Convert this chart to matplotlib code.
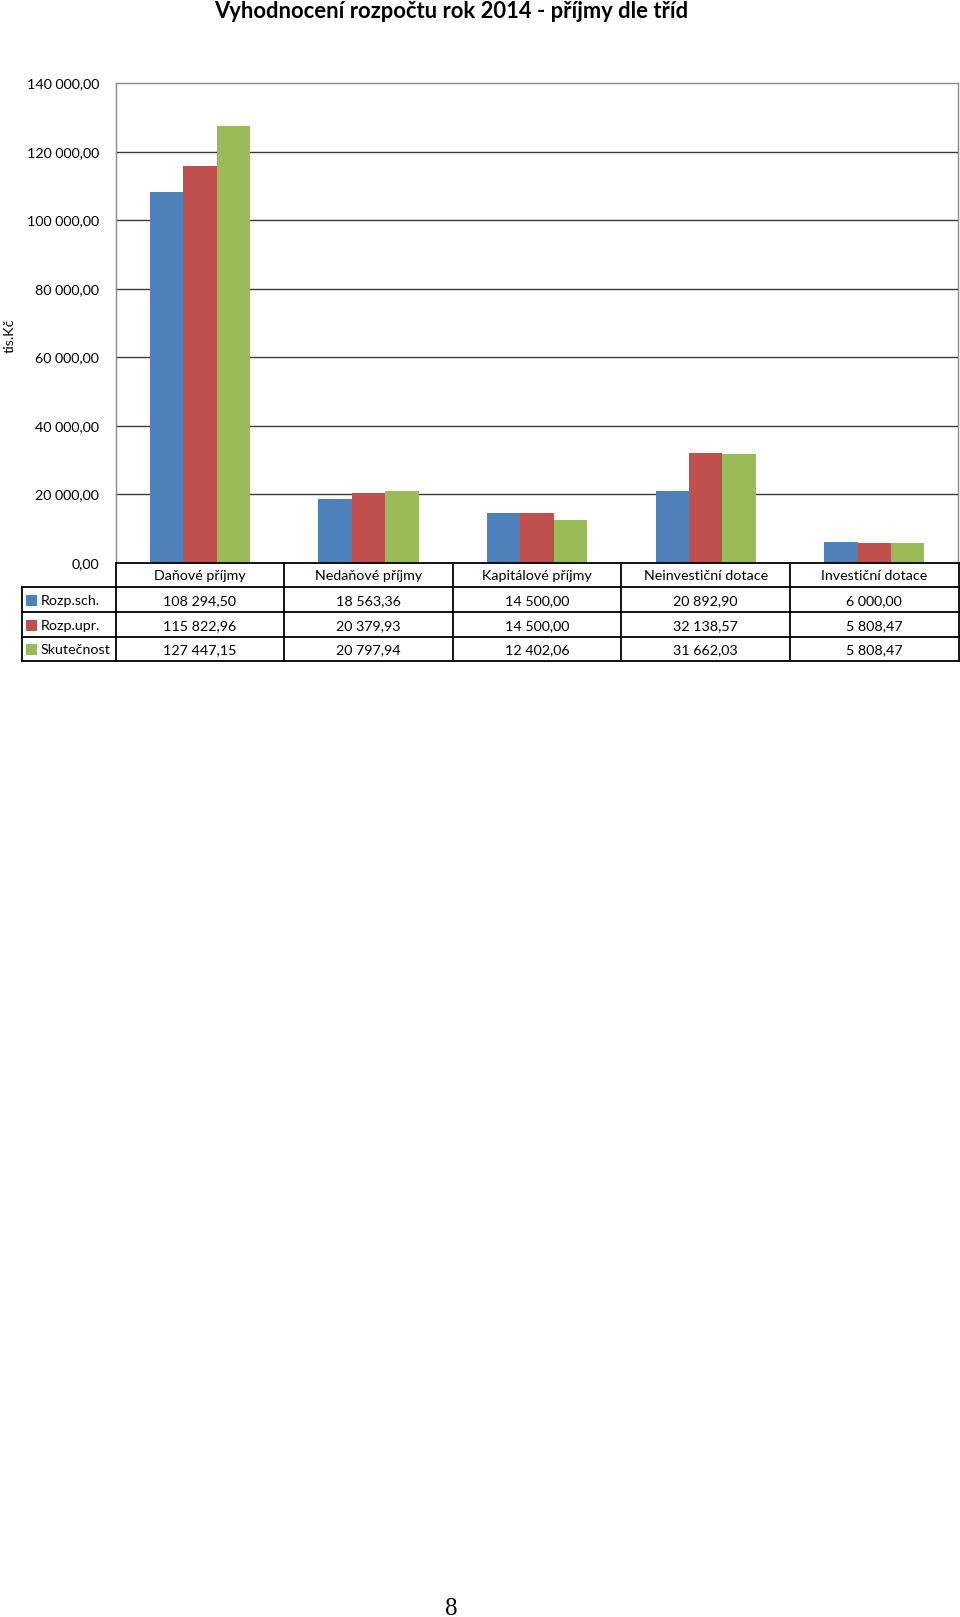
import matplotlib
matplotlib.use("Agg")
import matplotlib.pyplot as plt
from matplotlib.patches import Rectangle

# ---- data ----
categories = ["Daňové příjmy", "Nedaňové příjmy", "Kapitálové příjmy",
              "Neinvestiční dotace", "Investiční dotace"]
series_names = ["Rozp.sch.", "Rozp.upr.", "Skutečnost"]
rozp_sch = [108294.50, 18563.36, 14500.00, 20892.90, 6000.00]
rozp_upr = [115822.96, 20379.93, 14500.00, 32138.57, 5808.47]
skutecnost = [127447.15, 20797.94, 12402.06, 31662.03, 5808.47]
y_ticks = [0, 20000, 40000, 60000, 80000, 100000, 120000, 140000]
title = "Vyhodnocení rozpočtu rok 2014 - příjmy dle tříd"
y_label = "tis.Kč"
page_number = "8"

series = [rozp_sch, rozp_upr, skutecnost]
colors = ["#4F81BD", "#C0504D", "#9BBB59"]

def fmt(v):
    return f"{v:,.2f}".replace(",", " ").replace(".", ",")

W, H = 960, 1617
fig = plt.figure(figsize=(W / 100, H / 100), dpi=100)
fig.patch.set_facecolor("white")
FONT = ["Lato", "DejaVu Sans"]
FS = 10.3

left, right, top, bottom = 115.7, 958.5, 83.3, 562.7
ax = fig.add_axes([left / W, 1 - bottom / H, (right - left) / W, (bottom - top) / H])
n = len(categories)
bw = 0.198
for i, (vals, c) in enumerate(zip(series, colors)):
    xs = [k + (i - 1) * bw for k in range(n)]
    ax.bar(xs, vals, width=bw, color=c, edgecolor="none", zorder=3)
ax.set_xlim(-0.5, n - 0.5)
ax.set_ylim(0, 140000)
ax.set_yticks(y_ticks)
ax.set_yticklabels([fmt(t) for t in y_ticks], fontfamily=FONT, fontsize=FS)
ax.tick_params(axis="y", length=0, pad=12)
ax.set_xticks([])
for t in y_ticks[1:-1]:
    ax.axhline(t, color="#3a3a3a", lw=1.0, zorder=1)
for s in ["left", "top", "right"]:
    ax.spines[s].set_color("#8a8a8a")
    ax.spines[s].set_linewidth(1.0)
ax.spines["bottom"].set_visible(False)

# overlay for table and texts (pixel coordinates)
ov = fig.add_axes([0, 0, 1, 1])
ov.set_xlim(0, W)
ov.set_ylim(H, 0)
ov.axis("off")
ov.patch.set_alpha(0)

ov.text(451, 18.5, title, ha="center", va="baseline", fontfamily=FONT,
        fontweight="bold", fontsize=15.8, color="black")
ov.text(10, 336, y_label, rotation=90, ha="center", va="center",
        fontfamily=FONT, fontsize=FS)

# table
colw = (right - left) / n
row_y = [562.7, 586.7, 611.7, 636.7, 660.7]
leg_left = 21.7
lw = 1.3
ov.plot([left, right], [row_y[0]] * 2, color="black", lw=lw)
for yy in row_y[1:]:
    ov.plot([leg_left, right], [yy, yy], color="black", lw=lw)
ov.plot([leg_left, leg_left], [row_y[1], row_y[-1]], color="black", lw=lw)
for k in range(n + 1):
    xx = left + k * colw
    ov.plot([xx, xx], [row_y[0], row_y[-1]], color="black", lw=lw)

for k, cat in enumerate(categories):
    cx = left + (k + 0.5) * colw
    ov.text(cx, (row_y[0] + row_y[1]) / 2 + 1.5, cat, ha="center", va="center",
            fontfamily=FONT, fontsize=FS)
for r, (name, vals, c) in enumerate(zip(series_names, series, colors)):
    cy = (row_y[r + 1] + row_y[r + 2]) / 2 + 1.5
    ov.add_patch(Rectangle((26, cy - 6), 11, 11, facecolor=c, edgecolor="none"))
    ov.text(40.5, cy, name, ha="left", va="center", fontfamily=FONT, fontsize=FS)
    for k, v in enumerate(vals):
        cx = left + (k + 0.5) * colw
        ov.text(cx, cy, fmt(v), ha="center", va="center", fontfamily=FONT, fontsize=FS)

ov.text(451, 1614.5, page_number, ha="center", va="baseline",
        fontfamily=["Liberation Serif", "DejaVu Serif"], fontsize=18)

fig.savefig("out.png", dpi=100)
